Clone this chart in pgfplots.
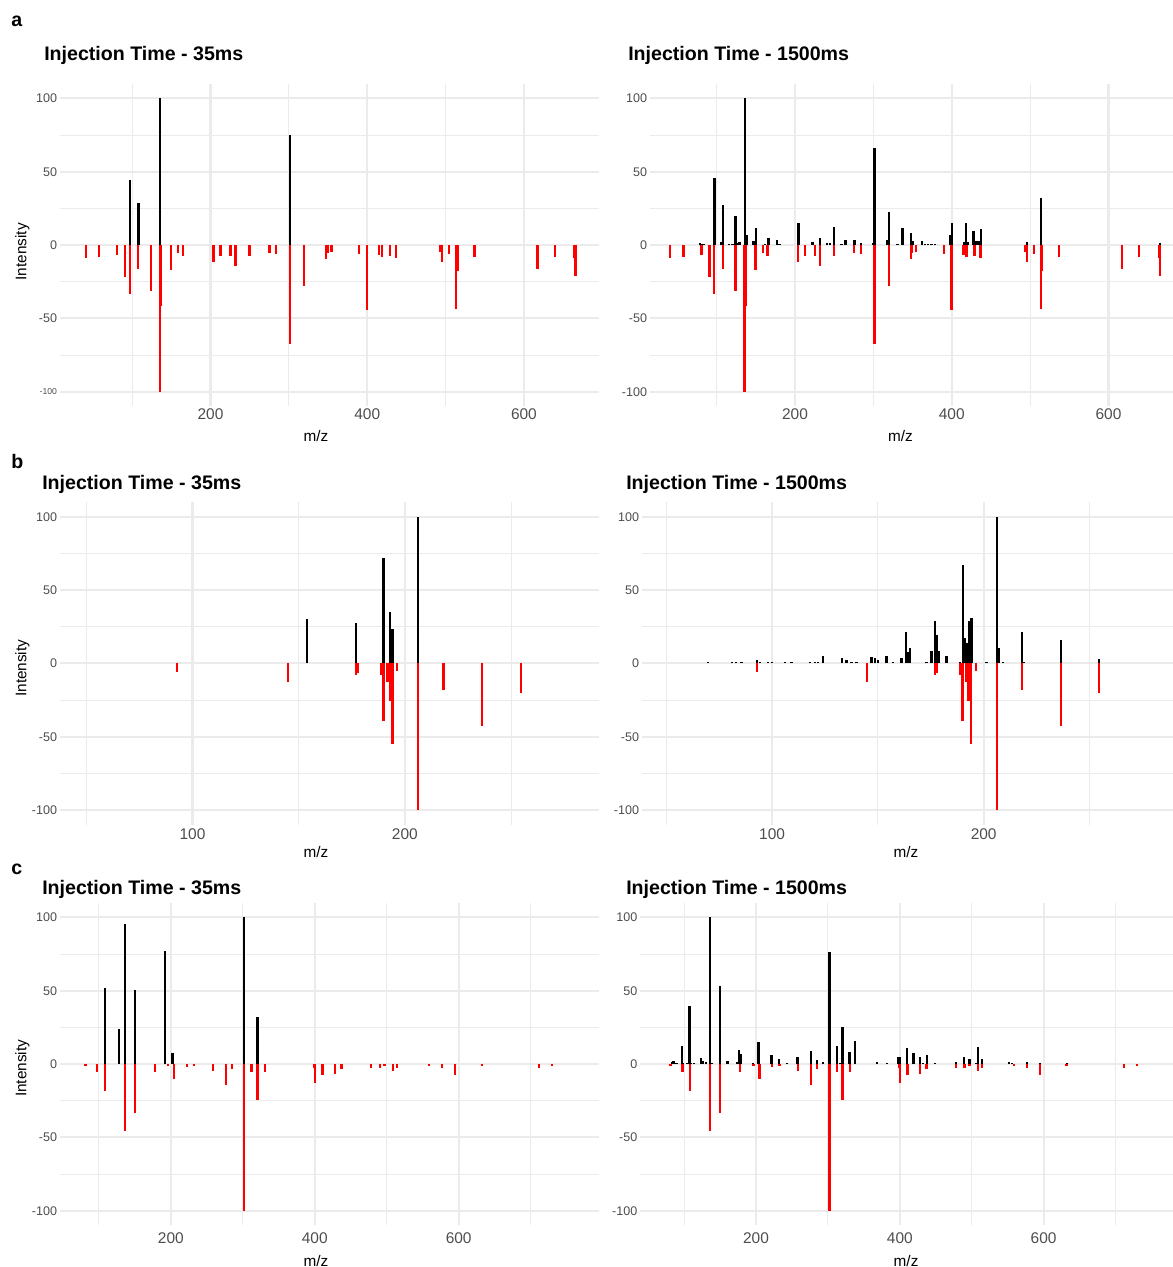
\documentclass[border=0pt]{standalone}
\usepackage{fontspec}
\setmainfont{Liberation Sans}
\usepackage{pgfplots}
\usepackage{pgfplotstable}
\pgfplotsset{compat=1.18}
\definecolor{gridc}{HTML}{EBEBEB}
\definecolor{tickc}{HTML}{4D4D4D}
\pgfplotsset{
  spec/.style={
    scale only axis, axis line style={draw=none}, tick style={draw=none},
    ymin=-110, ymax=110,
    ytick={-100,-50,0,50,100}, minor ytick={-75,-25,25,75},
    yticklabels={-100,-50,0,50,100},
    grid=both,
    major grid style={line width=1.6pt, color=gridc},
    minor grid style={line width=0.8pt, color=gridc},
    yticklabel style={font=\fontsize{9.4}{10}\selectfont, text=tickc, anchor=east, inner sep=0pt, xshift=-2pt},
    xticklabel style={font=\fontsize{11.6}{12}\selectfont, text=tickc, anchor=center, inner sep=0pt},
    xlabel={m/z},
    label style={font=\fontsize{11.5}{12}\selectfont},
    clip=true,
  },
  mzpos/.style 2 args={xlabel style={at={(axis description cs:#1,0)}, anchor=center, yshift=#2}},
  xtl/.style={xticklabel style={yshift=#1}},
  intpos/.style={ylabel={Intensity}, ylabel style={at={(axis description cs:-0.0696,#1)}, anchor=center}},
  ref/.style={ycomb, draw=red, line width=1.75pt, mark=none},
  exp/.style={ycomb, draw=black, line width=1.75pt, mark=none},
}
\newcommand{\ttl}[1]{\fontsize{14.7}{16}\selectfont\bfseries #1}

% ---------- row a ----------
\pgfplotstableread{
x y
40.8 -9
57.5 -8.4
80.7 -6.8
90.7 -21.6
96.9 -33.6
107.8 -16.6
123.8 -31
135.7 -100
137.1 -41.6
149.7 -17
158.7 -5.7
164.8 -7.3
204 -11.4
212.8 -7.3
225.7 -7.3
231.8 -14.3
249.8 -7.3
275.4 -5.7
283.9 -6.1
301.4 -67.5
319.7 -28
347.7 -9.8
349.2 -5.7
354.2 -5
389.8 -6.1
399.6 -44.3
415 -6.8
418.9 -8.4
429 -7.3
436.6 -9
493.4 -5
495.7 -11.4
504.7 -6.1
513.5 -43.9
515.4 -18
536.8 -8
617.2 -16
639.4 -8
664.5 -8.6
666 -21
}\refA
\pgfplotstableread{
x y
97 44.3
108 29
135.9 100
301.2 75
}\expAa
\pgfplotstableread{
x y
79 1.2
81 1
83 1
97 46
105.6 2.3
107.7 27.3
115.4 1
120 1
123.8 19.9
126.6 1.6
129 2
135.8 100
138.4 7
146.9 2.8
150.2 11.7
161.7 1
166 5.1
177.4 3.5
180 1
204.3 15.2
222.1 2.1
231.9 5.1
240.4 1.2
244.7 1.4
249.8 12.1
259.1 1
264.2 3.7
275.7 3.7
284.2 1.2
300 1.4
301.6 66.4
317.8 3.3
320 22.7
330.6 1
337 11.7
348 7.9
349.7 2.8
361.7 2.8
366 1
370 1
374 1
379 1
397.8 6.8
400 15.2
415.7 2.1
418.2 15.2
420 2.1
427.6 9.8
430.2 2.8
434 2.8
437.4 11
496 2
513.5 31.8
666 1.1
}\expAb

% ---------- row b ----------
\pgfplotstableread{
x y
92.7 -5.7
144.9 -13
177 -8
178 -6.8
188.9 -8
190 -39.3
191.8 -13
192.9 -25.5
194.1 -55
196.4 -5.2
206.3 -100
218.2 -18
236.4 -42.5
254.6 -20
}\refB
\pgfplotstableread{
x y
153.9 30
177 27.3
190 72
192.9 34.8
194.1 23.4
206.3 100
}\expBa
\pgfplotstableread{
x y
69.8 1.1
81 1
83 1
85.6 1
92.7 2.3
94.2 1.1
98.2 1
100 1
106 1
109.2 1
117.9 1
120.2 1.1
121.8 1.1
123.9 5.2
133 3.4
135.2 2.3
137.6 1.1
139.9 1
147 4.5
148.6 3.4
150.2 2.3
154.1 5.2
157.2 1
161.2 3.4
163.2 21.6
164.2 8
165.1 10.7
173 1.1
175.4 8.4
177.1 28.9
178 19.3
179 8.4
182.5 5
188.8 1.1
190.1 67.3
191.3 17
192.2 14.1
193.3 29.1
194.3 30.7
201.4 1
206.3 100
207.1 10.7
209 1.1
218.2 21.6
219.2 1
236.4 16
254.6 2.7
}\expBb

% ---------- row c ----------
\pgfplotstableread{
x y
81.2 -1.1
97.5 -5.5
108.4 -18.4
136.2 -45.7
150.2 -33.2
178 -5.2
196.4 -1.1
204.6 -10.3
222.1 -1.8
232.5 -1.1
258.6 -4.6
276.4 -14.3
284.8 -3.1
302 -100
312.2 -5.5
320.5 -24.5
330.7 -5.5
399 -3
400.5 -13.2
410.8 -7.5
428.5 -6.8
437.1 -3.6
478.1 -2.5
490.2 -3
496.7 -1.4
508.6 -4.5
514.7 -3
558.6 -1.1
576.7 -3
594.8 -7.3
632 -1.1
712 -3
730 -1.4
}\refC
\pgfplotstableread{
x y
108.3 51.6
128.2 23.6
136.3 95.2
150.2 50.5
191.5 77
202.4 7.3
302 100
320.2 32.3
}\expCa
\pgfplotstableread{
x y
82.8 1.1
85 2.3
87 1
89.5 1
96.7 12.5
98.6 1
103.6 1
107.5 39.5
110 1
113.5 1
123.5 4.1
125.8 2.3
130 1.4
136.2 100
138.6 1
150 53
160.1 2
173.2 1.1
176 9.5
178.2 6.8
195.4 1
203.6 15.2
221.5 6.1
232 3.4
242.7 1
257.8 4.5
276.2 9.1
284.5 2.7
293.6 1.4
302 76.4
312.2 12.5
316.8 1
320.2 25.5
330 8.4
337.8 15.7
368.7 1.1
381.8 1
398 5
400.4 5
410.4 11.1
418.8 7.3
428.1 4.5
432.7 1
437.4 5.9
449 1
478.2 1.6
489.3 4.5
496.7 3.2
506 1
508.8 11.8
514.4 3.4
552.3 1.1
556 1
576.5 1.1
595 1
632.1 1
}\expCb

\begin{document}
\begin{tikzpicture}
\path[use as bounding box] (0,0) rectangle (879.75pt,950.25pt);

% panel letters and titles
\node[anchor=base west, inner sep=0pt] at (8.25pt,930pt) {\ttl{a}};
\node[anchor=base west, inner sep=0pt] at (8.25pt,598.5pt) {\ttl{b}};
\node[anchor=base west, inner sep=0pt] at (8.25pt,294pt) {\ttl{c}};
\node[anchor=base west, inner sep=0pt] at (33pt,904.5pt) {\ttl{Injection Time - 35ms}};
\node[anchor=base west, inner sep=0pt] at (471pt,904.5pt) {\ttl{Injection Time - 1500ms}};
\node[anchor=base west, inner sep=0pt] at (31.5pt,582.75pt) {\ttl{Injection Time - 35ms}};
\node[anchor=base west, inner sep=0pt] at (469.5pt,582.75pt) {\ttl{Injection Time - 1500ms}};
\node[anchor=base west, inner sep=0pt] at (31.5pt,279pt) {\ttl{Injection Time - 35ms}};
\node[anchor=base west, inner sep=0pt] at (469.5pt,279pt) {\ttl{Injection Time - 1500ms}};

% ---- a left
\begin{axis}[spec, at={(45pt,645.45pt)}, anchor=south west, width=404.25pt, height=242pt,
  xmin=7.9, xmax=695.8, xtick={200,400,600}, xticklabels={200,400,600}, minor xtick={100,300,500},
  yticklabels={{\fontsize{6.5}{7}\selectfont -100},-50,0,50,100},
  xtl=-5.85pt, mzpos={0.475}{-22.5pt}, intpos=0.479]
\addplot[ref] table {\refA};
\addplot[exp] table {\expAa};
\end{axis}
% ---- a right
\begin{axis}[spec, at={(487.5pt,645.45pt)}, anchor=south west, width=392.25pt, height=242pt,
  xmin=14.9, xmax=682.4, xtick={200,400,600}, xticklabels={200,400,600}, minor xtick={100,300,500},
  xtl=-5.85pt, mzpos={0.479}{-22.5pt}]
\addplot[ref] table {\refA};
\addplot[exp] table {\expAb};
\end{axis}
% ---- b left
\begin{axis}[spec, at={(45pt,331.7pt)}, anchor=south west, width=404.25pt, height=242pt,
  xmin=37.6, xmax=291.4, xtick={100,200}, xticklabels={100,200}, minor xtick={50,150,250},
  xtl=-7.1pt, mzpos={0.475}{-20.25pt}, intpos=0.485]
\addplot[ref] table {\refB};
\addplot[exp] table {\expBa};
\end{axis}
% ---- b right
\begin{axis}[spec, at={(481.5pt,331.7pt)}, anchor=south west, width=398.25pt, height=242pt,
  xmin=38.5, xmax=289.5, xtick={100,200}, xticklabels={100,200}, minor xtick={50,150,250},
  xtl=-7.1pt, mzpos={0.497}{-20.25pt}]
\addplot[ref] table {\refB};
\addplot[exp] table {\expBb};
\end{axis}
% ---- c left
\begin{axis}[spec, at={(45pt,31.2pt)}, anchor=south west, width=404.25pt, height=242pt,
  xmin=45.9, xmax=795, xtick={200,400,600}, xticklabels={200,400,600}, minor xtick={100,300,500,700},
  xtl=-9.7pt, mzpos={0.475}{-26.5pt}, intpos=0.487]
\addplot[ref] table {\refC};
\addplot[exp] table {\expCa};
\end{axis}
% ---- c right
\begin{axis}[spec, at={(480.15pt,31.2pt)}, anchor=south west, width=399.6pt, height=242pt,
  xmin=38.9, xmax=780, xtick={200,400,600}, xticklabels={200,400,600}, minor xtick={100,300,500,700},
  xtl=-9.7pt, mzpos={0.499}{-26.5pt}]
\addplot[ref] table {\refC};
\addplot[exp] table {\expCb};
\end{axis}
\end{tikzpicture}
\end{document}
